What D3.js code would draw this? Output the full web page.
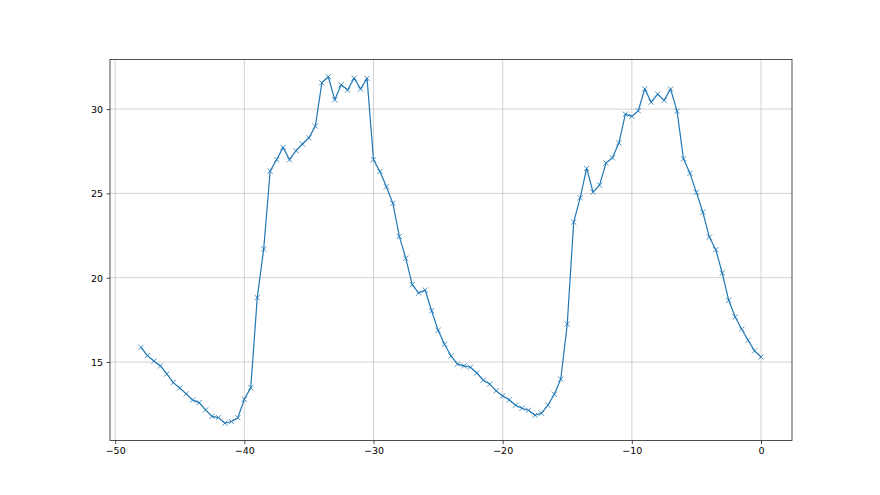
<!DOCTYPE html>
<html>
<head>
<meta charset="utf-8">
<script src="https://cdn.jsdelivr.net/npm/d3@7"></script>
<style>
  body { margin: 0; background: #fff; }
  svg text { font-family: "DejaVu Sans", sans-serif; font-size: 9.5px; fill: #000; }
</style>
</head>
<body>
<div id="chart"></div>
<script>
// x positions (time offsets) and measured values
var xValues = [-48, -47.5, -47, -46.5, -46, -45.5, -45, -44.5, -44, -43.5, -43, -42.5, -42, -41.5, -41, -40.5,
  -40, -39.5, -39, -38.5, -38, -37.5, -37, -36.5, -36, -35.5, -35, -34.5, -34, -33.5, -33, -32.5,
  -32, -31.5, -31, -30.5, -30, -29.5, -29, -28.5, -28, -27.5, -27, -26.5, -26, -25.5, -25, -24.5,
  -24, -23.5, -23, -22.5, -22, -21.5, -21, -20.5, -20, -19.5, -19, -18.5, -18, -17.5, -17, -16.5,
  -16, -15.5, -15, -14.5, -14, -13.5, -13, -12.5, -12, -11.5, -11, -10.5, -10, -9.5, -9, -8.5,
  -8, -7.5, -7, -6.5, -6, -5.5, -5, -4.5, -4, -3.5, -3, -2.5, -2, -1.5, -1, -0.5, 0]

var yValues = [15.87, 15.38, 15.06, 14.77, 14.29, 13.78, 13.46, 13.11, 12.75, 12.59, 12.16, 11.78, 11.70, 11.37, 11.47, 11.70,
  12.79, 13.48, 18.82, 21.70, 26.33, 27.00, 27.73, 27.00, 27.53, 27.93, 28.30, 28.99, 31.56, 31.92, 30.55, 31.44,
  31.13, 31.84, 31.19, 31.82, 27.00, 26.30, 25.39, 24.41, 22.45, 21.15, 19.59, 19.09, 19.27, 18.04, 16.88, 16.05,
  15.36, 14.88, 14.77, 14.69, 14.35, 13.92, 13.69, 13.29, 12.99, 12.76, 12.44, 12.26, 12.14, 11.84, 11.96, 12.44,
  13.09, 13.99, 17.25, 23.30, 24.74, 26.48, 25.08, 25.49, 26.80, 27.11, 28.00, 29.70, 29.57, 29.90, 31.20, 30.41,
  30.89, 30.52, 31.19, 29.88, 27.05, 26.19, 25.06, 23.88, 22.41, 21.66, 20.28, 18.66, 17.67, 16.96, 16.29, 15.66, 15.30]

var xTicks = [-50, -40, -30, -20, -10, 0]
var yTicks = [15, 20, 25, 30]

var width = 880, height = 495
var margin = { left: 110, right: 88, top: 59.4, bottom: 54.45 }
var innerW = width - margin.left - margin.right
var innerH = height - margin.top - margin.bottom

var data = xValues.map(function (x, i) { return { x: x, y: yValues[i] } })

// matplotlib style 5% padding
var xExt = d3.extent(xValues), yExt = d3.extent(yValues)
var xPad = (xExt[1] - xExt[0]) * 0.05, yPad = (yExt[1] - yExt[0]) * 0.05

var x = d3.scaleLinear().domain([xExt[0] - xPad, xExt[1] + xPad]).range([0, innerW])
var y = d3.scaleLinear().domain([yExt[0] - yPad, yExt[1] + yPad]).range([innerH, 0])

var fmt = function (d) { return String(d).replace('-', '\u2212') }

var svg = d3.select('#chart').append('svg')
  .attr('width', width)
  .attr('height', height)
var g = svg.append('g')
  .attr('transform', 'translate(' + margin.left + ',' + margin.top + ')')

// grid
g.append('g').selectAll('line').data(xTicks).enter().append('line')
  .attr('x1', function (d) { return x(d) }).attr('x2', function (d) { return x(d) })
  .attr('y1', 0).attr('y2', innerH)
  .attr('stroke', '#b0b0b0').attr('stroke-width', 0.8).attr('opacity', 0.7)
g.append('g').selectAll('line').data(yTicks).enter().append('line')
  .attr('y1', function (d) { return y(d) }).attr('y2', function (d) { return y(d) })
  .attr('x1', 0).attr('x2', innerW)
  .attr('stroke', '#b0b0b0').attr('stroke-width', 0.8).attr('opacity', 0.7)

// axes
var xAxis = d3.axisBottom(x).tickValues(xTicks).tickFormat(fmt).tickSize(3.5).tickPadding(3.5)
var yAxis = d3.axisLeft(y).tickValues(yTicks).tickFormat(fmt).tickSize(3.5).tickPadding(3.5)

var gx = g.append('g').attr('transform', 'translate(0,' + innerH + ')').call(xAxis)
var gy = g.append('g').call(yAxis)
;[gx, gy].forEach(function (a) {
  a.select('.domain').remove()
  a.selectAll('line').attr('stroke', '#222').attr('stroke-width', 0.8)
  a.selectAll('text').attr('fill', '#222').style('font-size', '9.5px').style('font-family', '"DejaVu Sans", sans-serif')
})
gy.selectAll('text').attr('dy', '0.35em')

// frame
g.append('rect')
  .attr('width', innerW).attr('height', innerH)
  .attr('fill', 'none').attr('stroke', '#222').attr('stroke-width', 0.8)

// line
var line = d3.line().x(function (d) { return x(d.x) }).y(function (d) { return y(d.y) })
g.append('path').datum(data)
  .attr('d', line)
  .attr('fill', 'none')
  .attr('stroke', '#1f77b4')
  .attr('stroke-width', 1.2)
  .attr('stroke-linejoin', 'round')

// x markers
var m = 2.6
g.append('g').selectAll('path').data(data).enter().append('path')
  .attr('d', function (d) {
    var cx = x(d.x), cy = y(d.y)
    return 'M' + (cx - m) + ',' + (cy - m) + 'L' + (cx + m) + ',' + (cy + m) +
           'M' + (cx - m) + ',' + (cy + m) + 'L' + (cx + m) + ',' + (cy - m)
  })
  .attr('stroke', '#1f77b4')
  .attr('stroke-width', 0.8)
  .attr('fill', 'none')
</script>
</body>
</html>
